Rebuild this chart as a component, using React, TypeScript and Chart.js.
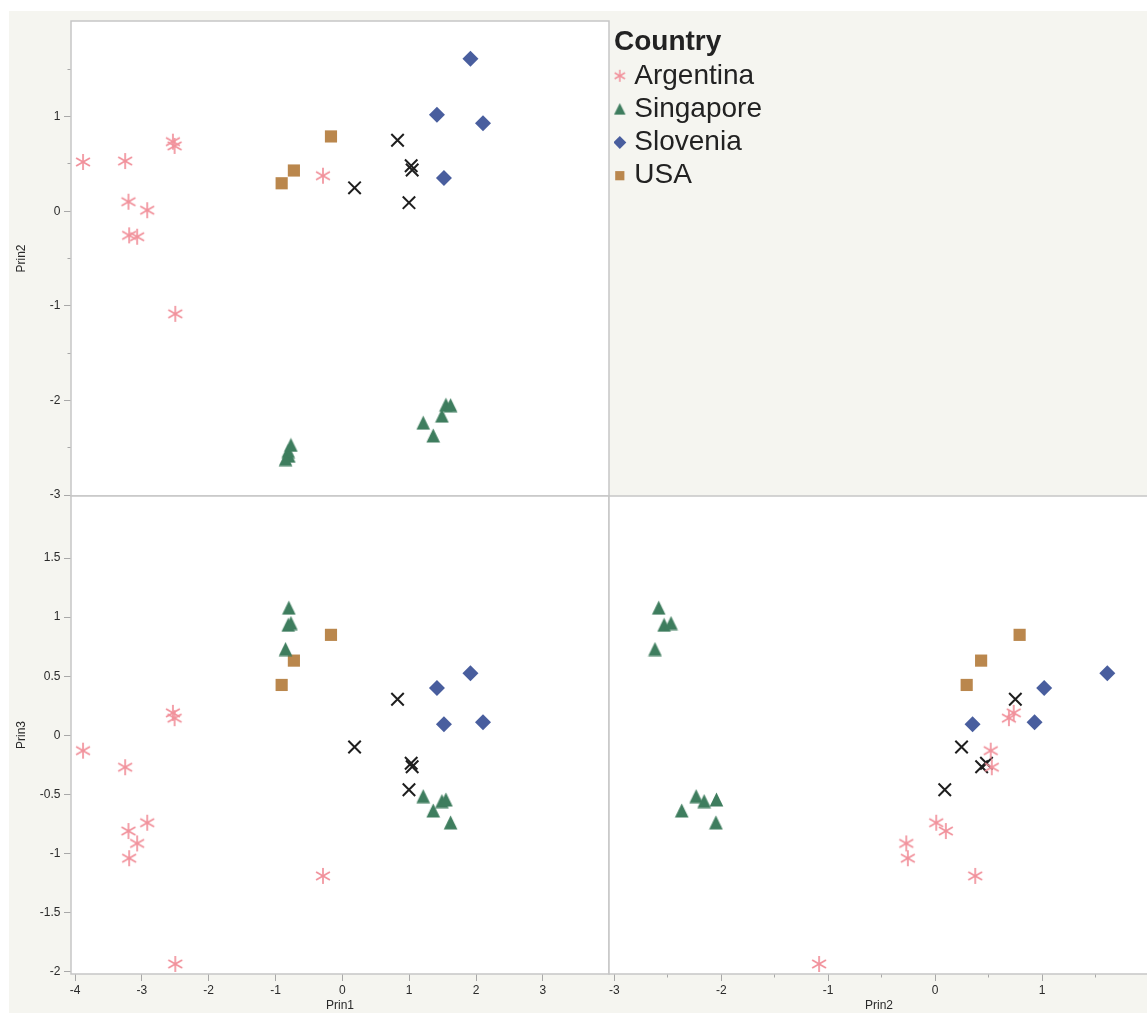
import React, { useEffect, useRef } from 'react';
import { Chart, registerables } from 'chart.js';

Chart.register(...registerables);

// ---------------- data (principal component scores) ----------------
const argentinaPrin1 = [-3.88, -3.25, -3.2, -2.92, -3.19, -3.07, -2.535, -2.51, -2.5, -0.29];
const argentinaPrin2 = [0.52, 0.53, 0.1, 0.01, -0.255, -0.27, 0.735, 0.69, -1.085, 0.375];
const argentinaPrin3 = [-0.13, -0.27, -0.81, -0.74, -1.04, -0.915, 0.19, 0.145, -1.935, -1.19];

const singaporePrin1 = [-0.8, -0.81, -0.77, -0.85, 1.21, 1.36, 1.49, 1.55, 1.62];
const singaporePrin2 = [-2.585, -2.535, -2.47, -2.62, -2.235, -2.37, -2.16, -2.045, -2.05];
const singaporePrin3 = [1.08, 0.935, 0.95, 0.73, -0.515, -0.636, -0.557, -0.543, -0.737];

const sloveniaPrin1 = [1.415, 1.917, 2.105, 1.52];
const sloveniaPrin2 = [1.02, 1.61, 0.93, 0.35];
const sloveniaPrin3 = [0.4, 0.525, 0.11, 0.093];

const usaPrin1 = [-0.17, -0.725, -0.908];
const usaPrin2 = [0.79, 0.43, 0.295];
const usaPrin3 = [0.85, 0.632, 0.426];

// rows without a Country value (drawn as black x, not in legend)
const otherPrin1 = [0.826, 0.183, 1.03, 1.045, 0.997];
const otherPrin2 = [0.75, 0.247, 0.48, 0.435, 0.09];
const otherPrin3 = [0.305, -0.099, -0.237, -0.266, -0.461];

const countries = ['Argentina', 'Singapore', 'Slovenia', 'USA'];

// tick values
const prin1Ticks = [-4, -3, -2, -1, 0, 1, 2, 3];
const prin2Ticks = [-3, -2.5, -2, -1.5, -1, -0.5, 0, 0.5, 1, 1.5];
const prin3Ticks = [-2, -1.5, -1, -0.5, 0, 0.5, 1, 1.5];

// axis ranges
const prin1Range = [-4.06, 3.99];
const prin2RangeRow = [-3.01, 2.01];
const prin2RangeCol = [-3.05, 2.0];
const prin3Range = [-2.02, 2.025];

// ---------------- styles ----------------
const FONT = "'Liberation Sans', Arial, Helvetica, sans-serif";
const BG = '#F5F5F0';
const FRAME = '#C6C6C6';
const TICK = '#A8A8A8';
const LABEL = '#2A2A2A';
const PINK = '#F1919B';
const GREEN = '#3E7D5E';
const BLUE = '#495E9E';
const BROWN = '#BA874D';
const BLACK = '#1E1E1E';

function makeAsterisk(r: number, lw: number, color: string) {
  const size = Math.ceil(2 * r + lw + 2);
  const c = document.createElement('canvas');
  c.width = size;
  c.height = size;
  const g = c.getContext('2d')!;
  g.strokeStyle = color;
  g.lineWidth = lw;
  const cx = size / 2;
  const cy = size / 2;
  [90, 30, -30].forEach((deg) => {
    const a = (deg * Math.PI) / 180;
    g.beginPath();
    g.moveTo(cx - r * Math.cos(a), cy - r * Math.sin(a));
    g.lineTo(cx + r * Math.cos(a), cy + r * Math.sin(a));
    g.stroke();
  });
  return c;
}

function makeTriangle(w: number, h: number, color: string) {
  const c = document.createElement('canvas');
  c.width = Math.ceil(w + 1);
  c.height = Math.ceil(h + 1);
  const g = c.getContext('2d')!;
  g.fillStyle = color;
  g.beginPath();
  g.moveTo(c.width / 2, 0.5);
  g.lineTo(c.width / 2 + w / 2, 0.5 + h);
  g.lineTo(c.width / 2 - w / 2, 0.5 + h);
  g.closePath();
  g.fill();
  return c;
}

const framePlugin = {
  id: 'panelFrame',
  beforeDraw(chart: any) {
    const { ctx, chartArea: a } = chart;
    ctx.save();
    ctx.fillStyle = '#FFFFFF';
    ctx.fillRect(a.left, a.top, a.right - a.left, a.bottom - a.top);
    ctx.restore();
  },
  beforeDatasetsDraw(chart: any) {
    const { ctx, chartArea: a } = chart;
    ctx.save();
    ctx.strokeStyle = FRAME;
    ctx.lineWidth = 1.5;
    ctx.strokeRect(a.left, a.top, a.right - a.left, a.bottom - a.top);
    ctx.restore();
  },
};

const isInt = (v: number) => Number.isInteger(v);
const always = (_v: number) => true;

const zeroPadding = (s: any) => {
  s.paddingTop = 0;
  s.paddingBottom = 0;
  s.paddingLeft = 0;
  s.paddingRight = 0;
};

function makeAxis(
  position: 'left' | 'bottom',
  range: number[],
  ticks: number[],
  isMajor: (v: number) => boolean,
  title: string,
  size: number
) {
  const horizontal = position === 'bottom';
  return {
    type: 'linear',
    position,
    min: range[0],
    max: range[1],
    afterBuildTicks: (s: any) => {
      s.ticks = ticks.map((v) => ({ value: v }));
    },
    afterFit: (s: any) => {
      if (horizontal) s.height = size;
      else s.width = size;
      zeroPadding(s);
    },
    ticks: {
      autoSkip: false,
      maxRotation: 0,
      minRotation: 0,
      padding: horizontal ? 2 : 3.5,
      color: LABEL,
      font: { family: FONT, size: 12 },
      callback: (v: number) => (isMajor(v) ? String(v) : ''),
    },
    grid: {
      drawOnChartArea: false,
      drawTicks: true,
      tickLength: 7,
      tickColor: TICK,
      tickWidth: 1,
      tickBorderDash: (ctx: any) =>
        isMajor(ctx.tick.value) ? [] : horizontal ? [3.5, 100] : [0, 3.5, 3.5, 100],
    },
    border: { display: false },
    title: {
      display: true,
      text: title,
      color: LABEL,
      font: { family: FONT, size: 12 },
      padding: horizontal ? { top: 0, bottom: 0 } : { top: 5, bottom: 0 },
    },
  };
}

function hiddenAxis(range: number[]) {
  return { type: 'linear', display: false, min: range[0], max: range[1], afterFit: zeroPadding };
}

export default function App() {
  const aRef = useRef<HTMLCanvasElement>(null);
  const bRef = useRef<HTMLCanvasElement>(null);
  const cRef = useRef<HTMLCanvasElement>(null);
  const dRef = useRef<HTMLCanvasElement>(null);

  useEffect(() => {
    const asterisk = makeAsterisk(8, 1.7, PINK);
    const triangle = makeTriangle(13.6, 14, GREEN);
    const asteriskSmall = makeAsterisk(6, 1.5, PINK);
    const triangleSmall = makeTriangle(11.5, 11.5, GREEN);

    const series: Record<string, number[][]> = {
      Argentina: [argentinaPrin1, argentinaPrin2, argentinaPrin3],
      Singapore: [singaporePrin1, singaporePrin2, singaporePrin3],
      Slovenia: [sloveniaPrin1, sloveniaPrin2, sloveniaPrin3],
      USA: [usaPrin1, usaPrin2, usaPrin3],
      Other: [otherPrin1, otherPrin2, otherPrin3],
    };

    const markerStyle: Record<string, any> = {
      Argentina: { pointStyle: asterisk, pointRadius: 8 },
      Singapore: { pointStyle: triangle, pointRadius: 8 },
      Slovenia: { pointStyle: 'rectRot', pointRadius: 8, pointBackgroundColor: BLUE, pointBorderWidth: 0 },
      USA: { pointStyle: 'rect', pointRadius: 8.6, pointBackgroundColor: BROWN, pointBorderWidth: 0 },
      Other: {
        pointStyle: 'crossRot',
        pointRadius: 8.8,
        pointBorderColor: BLACK,
        pointBorderWidth: 2,
        pointBackgroundColor: 'rgba(0,0,0,0)',
      },
    };

    const buildDatasets = (xi: number, yi: number) =>
      ['Argentina', 'Singapore', 'Slovenia', 'USA', 'Other'].map((name) => {
        const s = series[name];
        return {
          label: name,
          data: s[xi].map((x, i) => ({ x, y: s[yi][i] })),
          clip: false,
          ...markerStyle[name],
        };
      });

    const baseOptions = {
      responsive: false,
      animation: false,
      devicePixelRatio: 1,
      events: [],
      plugins: { legend: { display: false }, tooltip: { enabled: false } },
    };

    // Top-left: Prin1 (x) vs Prin2 (y)
    const chartA = new Chart(aRef.current!, {
      type: 'scatter',
      data: { datasets: buildDatasets(0, 1) as any },
      options: {
        ...baseOptions,
        layout: { autoPadding: false, padding: { left: 0, top: 10, right: 2, bottom: 2 } },
        scales: {
          x: hiddenAxis(prin1Range),
          y: makeAxis('left', prin2RangeRow, prin2Ticks, isInt, 'Prin2', 62),
        },
      } as any,
      plugins: [framePlugin],
    });

    // Bottom-left: Prin1 (x) vs Prin3 (y)
    const chartB = new Chart(bRef.current!, {
      type: 'scatter',
      data: { datasets: buildDatasets(0, 2) as any },
      options: {
        ...baseOptions,
        layout: { autoPadding: false, padding: { left: 0, top: 2, right: 2, bottom: 0 } },
        scales: {
          x: makeAxis('bottom', prin1Range, prin1Ticks, always, 'Prin1', 39),
          y: makeAxis('left', prin3Range, prin3Ticks, always, 'Prin3', 62),
        },
      } as any,
      plugins: [framePlugin],
    });

    // Bottom-right: Prin2 (x) vs Prin3 (y)
    const chartC = new Chart(cRef.current!, {
      type: 'scatter',
      data: { datasets: buildDatasets(1, 2) as any },
      options: {
        ...baseOptions,
        layout: { autoPadding: false, padding: { left: 2, top: 2, right: 2, bottom: 0 } },
        scales: {
          x: makeAxis('bottom', prin2RangeCol, prin2Ticks, isInt, 'Prin2', 39),
          y: hiddenAxis(prin3Range),
        },
      } as any,
      plugins: [framePlugin],
    });

    // Legend panel
    const legendStyle: Record<string, any> = {
      Argentina: { pointStyle: asteriskSmall, pointRadius: 6 },
      Singapore: { pointStyle: triangleSmall, pointRadius: 6 },
      Slovenia: { pointStyle: 'rectRot', pointBackgroundColor: BLUE, pointBorderWidth: 0 },
      USA: { pointStyle: 'rect', pointBackgroundColor: BROWN, pointBorderWidth: 0 },
    };
    const chartD = new Chart(dRef.current!, {
      type: 'scatter',
      data: {
        datasets: countries.map((name) => ({ label: name, data: [], ...legendStyle[name] })) as any,
      },
      options: {
        responsive: false,
        animation: false,
        devicePixelRatio: 1,
        events: [],
        layout: { autoPadding: false, padding: 0 },
        scales: { x: { display: false }, y: { display: false } },
        plugins: {
          tooltip: { enabled: false },
          legend: {
            display: true,
            position: 'left',
            align: 'start',
            title: {
              display: true,
              text: 'Country',
              position: 'start',
              color: '#222222',
              font: { family: FONT, size: 28, weight: 'bold', lineHeight: 1 },
              padding: { top: 8, bottom: 0.5 },
            },
            labels: {
              usePointStyle: true,
              boxWidth: 1,
              boxHeight: 9.2,
              padding: 5.3,
              color: '#222222',
              font: { family: FONT, size: 28 },
            },
          },
        },
      } as any,
    });

    return () => {
      chartA.destroy();
      chartB.destroy();
      chartC.destroy();
      chartD.destroy();
    };
  }, []);

  const abs = (left: number, top: number, width: number, height: number): React.CSSProperties => ({
    position: 'absolute',
    left,
    top,
    width,
    height,
    display: 'block',
  });

  return (
    <div
      style={{
        position: 'fixed',
        left: 9,
        top: 11,
        width: 1138,
        height: 1002,
        background: BG,
        overflow: 'hidden',
      }}
    >
      <canvas ref={aRef} width={602} height={487} style={abs(0, 0, 602, 487)} />
      <canvas ref={bRef} width={602} height={519} style={abs(0, 483, 602, 519)} />
      <canvas ref={cRef} width={544} height={519} style={abs(598, 483, 544, 519)} />
      <canvas ref={dRef} width={400} height={200} style={abs(605, 9, 400, 200)} />
    </div>
  );
}
